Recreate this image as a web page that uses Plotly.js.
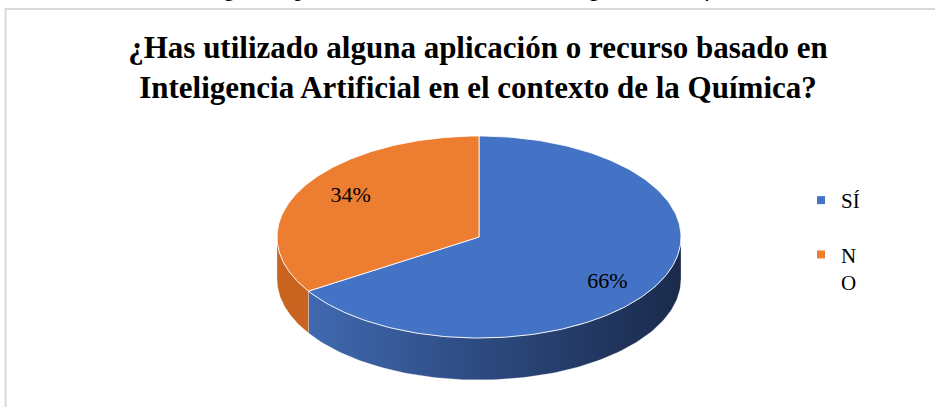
<!DOCTYPE html>
<html>
<head>
<meta charset="utf-8">
<script src="https://cdn.plot.ly/plotly-3.0.1.min.js"></script>
<style>html,body{margin:0;padding:0;background:#fff;}#chart{width:935px;height:407px;}</style>
</head>
<body>
<div id="chart"></div>
<script>
// ---- data ----
const categories = ['SÍ', 'NO'];
const values = [66, 34];
const legendLabels = ['SÍ', 'N<br>O'];
const chartTitle = '<b>¿Has utilizado alguna aplicación o recurso basado en<br>Inteligencia Artificial en el contexto de la Química?</b>';
const captionText = 'Uso de alguna aplicación o recurso de Inteligencia Artificial.';

// ---- styles / geometry ----
const topColors = ['#4472C4', '#ED7D31'];
const sideColors = [
  [[0, '#4169B0'], [0.45, '#2D4B82'], [1, '#1A2A4B']],
  [[0, '#C8641F'], [1, '#C8641F']]
];
const cx = 479, cy = 237, rx = 202, ry = 101, depth = 42;
const FONT = 'Liberation Serif, Times New Roman, serif';

const total = values.reduce((a, b) => a + b, 0);
const deg = Math.PI / 180;
function px(t) { return cx + rx * Math.sin(t * deg); }
function py(t) { return cy - ry * Math.cos(t * deg); }
function arc(a, b, n, dy) {
  const xs = [], ys = [];
  for (let i = 0; i <= n; i++) {
    const t = a + (b - a) * i / n;
    xs.push(px(t)); ys.push(py(t) + (dy || 0));
  }
  return [xs, ys];
}

const traces = [];
const tops = [];
const labelsX = [], labelsY = [], labelsT = [];
let start = 0;
values.forEach((v, i) => {
  const a = start, b = start + v / total * 360;
  start = b;
  // visible side (front half: 90..270 degrees clockwise from top)
  const s0 = Math.max(a, 90), s1 = Math.min(b, 270);
  if (s1 > s0) {
    const [tx, ty] = arc(s0, s1, 120, 0);
    const [bx, by] = arc(s1, s0, 120, depth);
    const side = {
      type: 'scatter', mode: 'lines', x: tx.concat(bx, [tx[0]]), y: ty.concat(by, [ty[0]]),
      fill: 'toself', line: {color: 'rgba(255,255,255,0.35)', width: 0.8},
      hoverinfo: 'skip', showlegend: false
    };
    side.fillgradient = {type: 'horizontal', colorscale: sideColors[i]};
    traces.push(side);
  }
  const [ax, ay] = arc(a, b, 200, 0);
  tops.push({
    type: 'scatter', mode: 'lines', x: [cx].concat(ax, [cx]), y: [cy].concat(ay, [cy]),
    fill: 'toself', fillcolor: topColors[i], line: {color: 'rgba(255,255,255,0.85)', width: 1},
    hoverinfo: 'skip', showlegend: false
  });
  const mid = (a + b) / 2;
  labelsX.push(cx + rx * 0.725 * Math.sin(mid * deg));
  labelsY.push(cy + 2.5 - ry * 0.89 * Math.cos(mid * deg));
  labelsT.push(Math.round(v / total * 100) + '%');
});
traces.push(...tops);
traces.push({
  type: 'scatter', mode: 'text', x: labelsX, y: labelsY, text: labelsT,
  textposition: 'middle center', textfont: {family: FONT, size: 22, color: '#000'},
  hoverinfo: 'skip', showlegend: false
});
categories.forEach((c, i) => {
  traces.push({
    type: 'scatter', mode: 'markers', x: [null], y: [null], name: legendLabels[i],
    legendgroup: 'g' + i, marker: {symbol: 'square', size: 8, color: topColors[i]},
    showlegend: true
  });
});

const layout = {
  width: 935, height: 407,
  margin: {l: 0, r: 0, t: 0, b: 0},
  paper_bgcolor: '#fff', plot_bgcolor: '#fff',
  xaxis: {range: [0, 935], visible: false, fixedrange: true},
  yaxis: {range: [407, 0], visible: false, fixedrange: true},
  title: {
    text: chartTitle, x: 478 / 935, xanchor: 'center', xref: 'paper',
    y: 1 - 58 / 407, yanchor: 'top', yref: 'container',
    font: {family: FONT, size: 31, color: '#000'}
  },
  legend: {
    x: 801 / 935, xanchor: 'left', y: 1 - 180 / 407, yanchor: 'top',
    font: {family: FONT, size: 21, color: '#000'},
    traceorder: 'grouped', tracegroupgap: 24, valign: 'top',
    itemwidth: 30, bgcolor: 'rgba(0,0,0,0)'
  },
  shapes: [{
    type: 'rect', xref: 'x', yref: 'y', x0: 5.5, y0: 9, x1: 945, y1: 420,
    line: {color: '#D9D9D9', width: 2}, layer: 'below'
  }],
  annotations: [{
    text: '<i>' + captionText + '</i>', xref: 'x', yref: 'y', x: 768, y: 4,
    xanchor: 'right', yanchor: 'bottom', showarrow: false,
    font: {family: FONT, size: 26, color: '#000'}
  }],
  showlegend: true
};
Plotly.newPlot('chart', traces, layout, {displayModeBar: false, staticPlot: true});
</script>
</body>
</html>
